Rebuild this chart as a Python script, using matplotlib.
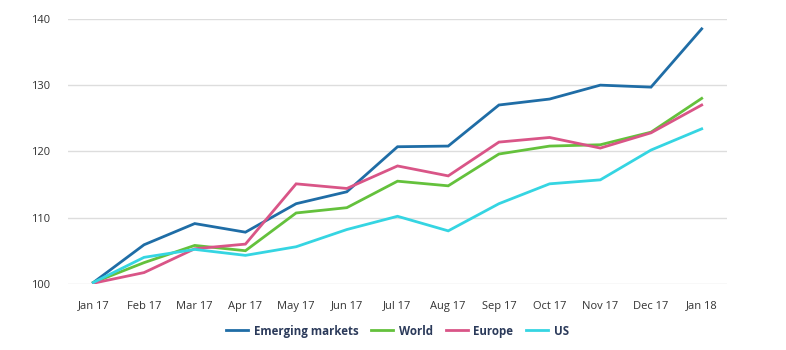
import matplotlib.pyplot as plt

months = ["Jan 17", "Feb 17", "Mar 17", "Apr 17", "May 17", "Jun 17", "Jul 17",
          "Aug 17", "Sep 17", "Oct 17", "Nov 17", "Dec 17", "Jan 18"]
emerging = [100.2, 105.9, 109.1, 107.8, 112.1, 113.9, 120.7, 120.8, 127.0, 127.9, 130.0, 129.7, 138.5]
world = [100.2, 103.2, 105.8, 105.0, 110.7, 111.5, 115.5, 114.8, 119.6, 120.8, 121.0, 122.9, 128.0]
europe = [100.1, 101.7, 105.3, 106.0, 115.1, 114.4, 117.8, 116.3, 121.4, 122.1, 120.5, 122.8, 127.0]
us = [100.2, 104.0, 105.2, 104.3, 105.6, 108.2, 110.2, 108.0, 112.1, 115.1, 115.7, 120.2, 123.4]
yticks = [100, 110, 120, 130, 140]

plt.rcParams['font.family'] = ['Open Sans', 'DejaVu Sans']

fig = plt.figure(figsize=(7.86, 3.5), dpi=100)
ax = fig.add_axes([0.0865, 0.189, 0.8385, 0.757])

x = range(len(months))
series = [("Emerging markets", emerging, "#1f6da6"),
          ("World", world, "#64c13c"),
          ("Europe", europe, "#d95587"),
          ("US", us, "#35d5e2")]
for name, vals, col in series:
    ax.plot(x, vals, color=col, lw=2, label=name, solid_joinstyle='miter')

ax.set_xlim(-0.5, 12.5)
ax.set_ylim(100, 140)
ax.set_yticks(yticks)
ax.set_xticks(list(x))
ax.set_xticklabels(months)
ax.grid(axis='y', color='#dddddd', lw=1)
ax.set_axisbelow(True)
for s in ax.spines.values():
    s.set_visible(False)
ax.tick_params(axis='both', length=0, labelsize=8, labelcolor='#333333')
ax.tick_params(axis='y', pad=13)
ax.tick_params(axis='x', pad=12)

leg = ax.legend(loc='center', bbox_to_anchor=(0.5, -0.178), ncol=4, frameon=False,
                handlelength=1.9, columnspacing=1.1, handletextpad=0.5,
                prop={'size': 8.3, 'weight': 'bold'})
for t in leg.get_texts():
    t.set_color('#2b3a5a')

fig.savefig("out.png", dpi=100)
